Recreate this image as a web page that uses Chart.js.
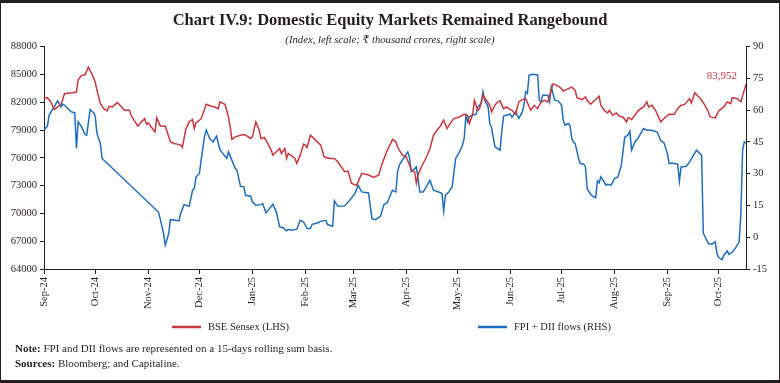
<!DOCTYPE html>
<html>
<head>
<meta charset="utf-8">
<script src="https://cdn.jsdelivr.net/npm/chart.js@4.4.0/dist/chart.umd.min.js"></script>
<style>
  html, body { margin: 0; padding: 0; background: #fff; }
  canvas { display: block; }
</style>
</head>
<body>
<canvas id="equityChart" width="780" height="383"></canvas>
<script>
// month ticks on the x axis
const monthStarts = ['2024-09-01','2024-10-01','2024-11-01','2024-12-01','2025-01-01','2025-02-01','2025-03-01',
  '2025-04-01','2025-05-01','2025-06-01','2025-07-01','2025-08-01','2025-09-01','2025-10-01'];
const monthLabels = ['Sep-24','Oct-24','Nov-24','Dec-24','Jan-25','Feb-25','Mar-25',
  'Apr-25','May-25','Jun-25','Jul-25','Aug-25','Sep-25','Oct-25'];

// BSE Sensex (index, LHS)
const sensexDates = [
  '2024-09-01','2024-09-03','2024-09-05','2024-09-07','2024-09-09','2024-09-11','2024-09-13','2024-09-16','2024-09-18','2024-09-20','2024-09-21','2024-09-23','2024-09-25','2024-09-27','2024-09-29',
  '2024-10-01','2024-10-02','2024-10-04','2024-10-06','2024-10-08','2024-10-09','2024-10-11','2024-10-12','2024-10-14','2024-10-16','2024-10-18','2024-10-21','2024-10-22','2024-10-24','2024-10-26','2024-10-28','2024-10-30','2024-10-31',
  '2024-11-01','2024-11-03','2024-11-05','2024-11-06','2024-11-08','2024-11-09','2024-11-11','2024-11-14','2024-11-16','2024-11-18','2024-11-20','2024-11-21','2024-11-23','2024-11-25','2024-11-27','2024-11-28','2024-11-29',
  '2024-12-02','2024-12-05','2024-12-08','2024-12-10','2024-12-12','2024-12-13','2024-12-15','2024-12-16','2024-12-18','2024-12-19','2024-12-20','2024-12-22','2024-12-25','2024-12-27','2024-12-29','2024-12-31',
  '2025-01-01','2025-01-03','2025-01-05','2025-01-06','2025-01-08','2025-01-10','2025-01-12','2025-01-13','2025-01-15','2025-01-17','2025-01-18','2025-01-20','2025-01-21','2025-01-22','2025-01-26','2025-01-27','2025-01-29','2025-01-31',
  '2025-02-01','2025-02-02','2025-02-04','2025-02-07','2025-02-10','2025-02-12','2025-02-15','2025-02-18','2025-02-20','2025-02-24','2025-02-26','2025-02-28',
  '2025-03-03','2025-03-06','2025-03-10','2025-03-13','2025-03-16','2025-03-18','2025-03-21','2025-03-23','2025-03-24','2025-03-26','2025-03-27','2025-03-28','2025-03-30',
  '2025-04-01','2025-04-03','2025-04-04','2025-04-06','2025-04-07','2025-04-08','2025-04-10','2025-04-13','2025-04-15','2025-04-17','2025-04-19','2025-04-21','2025-04-23','2025-04-25','2025-04-27','2025-04-29',
  '2025-05-02','2025-05-05','2025-05-07','2025-05-08','2025-05-10','2025-05-11','2025-05-13','2025-05-14','2025-05-16','2025-05-18','2025-05-20','2025-05-21','2025-05-23','2025-05-24','2025-05-26','2025-05-28','2025-05-30','2025-05-31',
  '2025-06-02','2025-06-04','2025-06-06','2025-06-08','2025-06-10','2025-06-13','2025-06-15','2025-06-17','2025-06-19','2025-06-21','2025-06-23','2025-06-26','2025-06-28','2025-06-30',
  '2025-07-02','2025-07-04','2025-07-07','2025-07-09','2025-07-10','2025-07-13','2025-07-15','2025-07-16','2025-07-18','2025-07-20','2025-07-23','2025-07-24','2025-07-26','2025-07-28','2025-07-29','2025-07-31',
  '2025-08-02','2025-08-04','2025-08-06','2025-08-08','2025-08-09','2025-08-11','2025-08-13','2025-08-15','2025-08-18','2025-08-20','2025-08-21','2025-08-23','2025-08-25','2025-08-27','2025-08-28','2025-08-30',
  '2025-09-02','2025-09-05','2025-09-07','2025-09-09','2025-09-11','2025-09-14','2025-09-15','2025-09-17','2025-09-19','2025-09-21','2025-09-23','2025-09-25','2025-09-26','2025-09-29',
  '2025-10-01','2025-10-04','2025-10-06','2025-10-08','2025-10-09','2025-10-12','2025-10-14','2025-10-17'
];
const sensexValues = [
  82460,82490,82030,81200,81490,81780,82920,83000,83030,83100,84430,84900,84970,85790,85070,
  84180,83280,81850,81310,81060,81560,81490,81670,81960,81560,81130,81130,80590,79980,79410,79880,80240,79630,
  79770,79270,78800,80310,79480,79410,79410,77730,77550,77480,77370,77120,79050,79880,80130,79160,79770,
  80200,81780,81560,81490,81310,82030,81850,81780,80410,79340,77980,78260,78440,78520,78340,78090,
  78260,79880,78980,78090,78190,77550,76830,76290,76650,77010,76470,77010,75930,76470,75930,75400,76290,77480,
  77370,77120,78440,77910,77370,76110,75930,75930,75580,74500,74570,73250,
  73000,74320,74140,73890,74140,75400,76830,77550,77980,77730,77190,76830,76290,
  76110,75220,74680,74500,73250,74140,75040,76110,77010,78440,78980,79410,80060,79160,79770,80240,
  80410,80700,80590,79700,80700,82210,81130,81310,82740,82210,81670,80950,81670,81920,82140,81310,81490,81310,
  81130,80700,82030,82280,82390,81130,81670,81310,82030,82210,82030,84000,83820,83640,
  83210,83390,83640,83280,82490,82280,82570,82210,81780,82140,82640,81670,81130,80840,81130,80590,
  80840,80490,80410,79880,80340,80130,80590,81130,81490,82030,81490,81670,81130,80340,79880,80240,
  80700,80700,81310,81670,81740,82390,81920,83030,82640,82210,81670,80950,80410,80310,
  81060,81490,82030,81850,82490,82390,82030,83952
];

// FPI + DII flows, 15-day rolling sum (thousand crore, RHS)
const flowDates = [
  '2024-09-01','2024-09-03','2024-09-04','2024-09-07','2024-09-09','2024-09-11','2024-09-12','2024-09-14','2024-09-17','2024-09-19','2024-09-20','2024-09-21','2024-09-23','2024-09-25','2024-09-26','2024-09-28','2024-09-30',
  '2024-10-01','2024-10-02','2024-10-04','2024-10-05',
  '2024-11-07','2024-11-08','2024-11-10','2024-11-11','2024-11-13','2024-11-14','2024-11-17','2024-11-19','2024-11-20','2024-11-22','2024-11-25','2024-11-27','2024-11-28','2024-11-29',
  '2024-12-01','2024-12-02','2024-12-04','2024-12-05','2024-12-07','2024-12-09','2024-12-11','2024-12-13','2024-12-14','2024-12-17','2024-12-18','2024-12-20','2024-12-22','2024-12-23','2024-12-25','2024-12-27','2024-12-28','2024-12-31',
  '2025-01-01','2025-01-03','2025-01-06','2025-01-07','2025-01-09','2025-01-11','2025-01-13','2025-01-15','2025-01-17','2025-01-19','2025-01-21','2025-01-22','2025-01-24','2025-01-27','2025-01-29','2025-01-31',
  '2025-02-02','2025-02-04','2025-02-05','2025-02-08','2025-02-10','2025-02-13','2025-02-14','2025-02-17','2025-02-18','2025-02-20','2025-02-24','2025-02-27',
  '2025-03-02','2025-03-04','2025-03-06','2025-03-10','2025-03-12','2025-03-14','2025-03-17','2025-03-19','2025-03-21','2025-03-24','2025-03-26','2025-03-27','2025-03-28','2025-03-30',
  '2025-04-02','2025-04-03','2025-04-04','2025-04-06','2025-04-07','2025-04-08','2025-04-09','2025-04-11','2025-04-13','2025-04-15','2025-04-17','2025-04-20','2025-04-22','2025-04-23','2025-04-24','2025-04-26','2025-04-28','2025-04-30',
  '2025-05-02','2025-05-04','2025-05-05','2025-05-06','2025-05-07','2025-05-08','2025-05-10','2025-05-12','2025-05-13','2025-05-15','2025-05-16','2025-05-17','2025-05-19','2025-05-20','2025-05-21','2025-05-23','2025-05-26','2025-05-27','2025-05-28','2025-05-30',
  '2025-06-01','2025-06-02','2025-06-04','2025-06-06','2025-06-08','2025-06-09','2025-06-10','2025-06-11','2025-06-12','2025-06-14','2025-06-17','2025-06-18','2025-06-19','2025-06-20','2025-06-23','2025-06-24','2025-06-25','2025-06-26','2025-06-27','2025-06-29',
  '2025-07-01','2025-07-02','2025-07-03','2025-07-05','2025-07-06','2025-07-07','2025-07-08','2025-07-09','2025-07-11','2025-07-12','2025-07-14','2025-07-15','2025-07-16','2025-07-18','2025-07-20','2025-07-21','2025-07-22','2025-07-23','2025-07-24','2025-07-26','2025-07-27','2025-07-28','2025-07-30',
  '2025-08-01','2025-08-03','2025-08-05','2025-08-07','2025-08-09','2025-08-10','2025-08-11','2025-08-13','2025-08-15','2025-08-18','2025-08-20','2025-08-23','2025-08-26','2025-08-28','2025-08-30',
  '2025-09-01','2025-09-02','2025-09-04','2025-09-05','2025-09-07','2025-09-08','2025-09-09','2025-09-12','2025-09-14','2025-09-16','2025-09-18','2025-09-19','2025-09-21','2025-09-22','2025-09-24','2025-09-25','2025-09-27','2025-09-29','2025-09-30',
  '2025-10-01','2025-10-03','2025-10-04','2025-10-06','2025-10-07','2025-10-09','2025-10-11','2025-10-13','2025-10-14','2025-10-15','2025-10-16','2025-10-17'
];
const flowValues = [
  50.6,52.5,57.7,61.6,64.4,61.6,62.9,61.6,59.2,58.8,41.9,54.5,52.1,48.5,48.2,60.3,58.8,
  57.2,49.0,44.3,37.2,
  11.9,8.8,1.7,-3.8,1.7,8.3,8.0,7.7,11.2,15.4,14.6,22.2,23.0,28.5,
  30.1,36.4,47.7,50.6,46.6,45.0,47.7,41.4,40.3,37.2,40.3,36.4,32.4,31.6,24.1,23.8,19.8,19.4,
  16.7,15.1,15.4,15.9,11.5,13.5,15.6,12.0,4.9,4.5,3.0,3.6,3.3,3.8,8.0,7.2,
  4.1,4.1,6.1,6.7,7.5,8.0,6.0,5.2,17.2,14.6,14.8,17.5,
  20.6,24.4,21.4,20.9,8.8,8.3,9.9,15.4,16.4,22.2,21.4,30.9,34.0,36.7,
  40.3,37.6,30.9,32.4,33.2,27.7,21.4,21.4,24.1,26.9,22.2,21.4,20.6,12.4,19.8,21.4,23.8,37.2,
  39.8,43.5,46.6,57.2,54.5,56.9,57.7,58.1,61.6,63.2,68.7,64.7,61.6,53.7,51.8,42.7,41.1,49.8,57.2,57.7,
  58.1,56.6,59.2,56.1,59.2,62.4,68.7,67.9,76.6,77.0,76.6,64.7,64.0,67.1,67.1,64.0,71.0,67.9,64.7,64.4,
  62.4,55.3,52.9,53.7,52.5,46.6,45.0,44.2,37.2,34.8,34.5,33.2,23.0,20.3,19.0,18.7,26.5,25.6,28.5,26.1,24.6,25.0,24.6,
  27.7,28.5,34.0,47.2,48.4,50.1,41.1,45.0,47.0,51.3,50.5,50.5,49.7,45.8,44.5,
  39.5,34.8,35.1,34.8,34.5,26.5,33.2,33.5,35.6,38.3,41.1,40.3,38.7,2.0,-1.4,-3.0,-3.3,-2.2,-7.7,
  -9.6,-10.6,-8.5,-6.5,-8.1,-7.0,-4.9,-2.2,11.2,41.1,45.0,44.5
];

const startMs = Date.parse(monthStarts[0]);
const dayOf = s => Math.round((Date.parse(s) - startMs) / 86400000);
const toPoints = (dates, vals) => dates.map((d, i) => ({ x: dayOf(d), y: vals[i] }));
const monthByDay = {};
monthStarts.forEach((d, i) => { monthByDay[dayOf(d)] = monthLabels[i]; });

const serif = "'Liberation Serif', 'DejaVu Serif', serif";
const textColor = '#231f20';

// frame, end-value label, legend and notes
const decor = {
  id: 'decor',
  afterDraw(chart) {
    const c = chart.ctx;
    c.save();
    c.fillStyle = '#231f20';
    c.fillRect(0, 0, 780, 3);
    c.fillRect(0, 380, 780, 3);
    c.fillRect(0, 0, 1, 383);
    c.fillRect(779, 0, 1, 383);

    // last Sensex value
    const meta = chart.getDatasetMeta(0);
    const last = meta.data[meta.data.length - 1];
    c.font = '11px ' + serif;
    c.fillStyle = '#c8373d';
    c.textAlign = 'right';
    c.textBaseline = 'middle';
    c.fillText(sensexValues[sensexValues.length - 1].toLocaleString('en-IN'), last.x - 9, last.y - 8);

    // legend
    const legendX = [172, 478];
    c.font = '10.5px ' + serif;
    c.textAlign = 'left';
    chart.data.datasets.forEach((ds, i) => {
      c.strokeStyle = ds.borderColor;
      c.lineWidth = 2.5;
      c.beginPath();
      c.moveTo(legendX[i], 327);
      c.lineTo(legendX[i] + 29, 327);
      c.stroke();
      c.fillStyle = textColor;
      c.fillText(ds.label, legendX[i] + 36, 327);
    });

    // notes
    const notes = [['Note:', ' FPI and DII flows are represented on a 15-days rolling sum basis.'],
                   ['Sources:', ' Bloomberg; and Capitaline.']];
    notes.forEach((n, i) => {
      const y = 349 + i * 15;
      c.font = 'bold 11px ' + serif;
      c.fillText(n[0], 15, y);
      const w = c.measureText(n[0]).width;
      c.font = '11px ' + serif;
      c.fillText(n[1], 15 + w, y);
    });
    c.restore();
  }
};

const tickFont = { family: serif, size: 10.5 };

new Chart(document.getElementById('equityChart'), {
  type: 'line',
  data: {
    datasets: [
      {
        label: 'BSE Sensex (LHS)',
        data: toPoints(sensexDates, sensexValues),
        borderColor: '#c8373d',
        borderWidth: 1.5,
        pointRadius: 0,
        tension: 0,
        yAxisID: 'yL'
      },
      {
        label: 'FPI + DII flows (RHS)',
        data: toPoints(flowDates, flowValues),
        borderColor: '#1f6dbd',
        borderWidth: 1.5,
        pointRadius: 0,
        tension: 0,
        yAxisID: 'yR'
      }
    ]
  },
  options: {
    responsive: false,
    animation: false,
    layout: { padding: 0 },
    plugins: {
      legend: { display: false },
      tooltip: { enabled: false },
      title: {
        display: true,
        text: 'Chart IV.9: Domestic Equity Markets Remained Rangebound',
        color: textColor,
        font: { family: serif, size: 16.5, weight: 'bold' },
        padding: { top: 11, bottom: 3 }
      },
      subtitle: {
        display: true,
        text: '(Index, left scale; \u20B9 thousand crores, right scale)',
        color: textColor,
        font: { family: serif, size: 10.7, style: 'italic' },
        padding: { top: 0, bottom: 0 }
      }
    },
    scales: {
      x: {
        type: 'linear',
        min: 0,
        max: dayOf(sensexDates[sensexDates.length - 1]),
        afterBuildTicks: s => { s.ticks = monthStarts.map(d => ({ value: dayOf(d) })); },
        afterFit: s => { s.height = 114; },
        ticks: {
          autoSkip: false,
          minRotation: 90,
          maxRotation: 90,
          padding: 3,
          color: textColor,
          font: tickFont,
          callback: v => monthByDay[v]
        },
        grid: { drawOnChartArea: false, tickLength: 5, color: '#231f20' },
        border: { color: '#231f20' }
      },
      yL: {
        position: 'left',
        min: 64000,
        max: 88000,
        afterFit: s => { s.width = 44; },
        ticks: { stepSize: 3000, padding: 3, color: textColor, font: tickFont, callback: v => String(v) },
        grid: { drawOnChartArea: false, tickLength: 4, color: '#231f20' },
        border: { color: '#231f20' }
      },
      yR: {
        position: 'right',
        min: -15,
        max: 90,
        afterFit: s => { s.width = 34; },
        ticks: { stepSize: 15, padding: 3, color: textColor, font: tickFont },
        grid: { drawOnChartArea: false, tickLength: 4, color: '#231f20' },
        border: { color: '#231f20' }
      }
    }
  },
  plugins: [decor]
});
</script>
</body>
</html>
